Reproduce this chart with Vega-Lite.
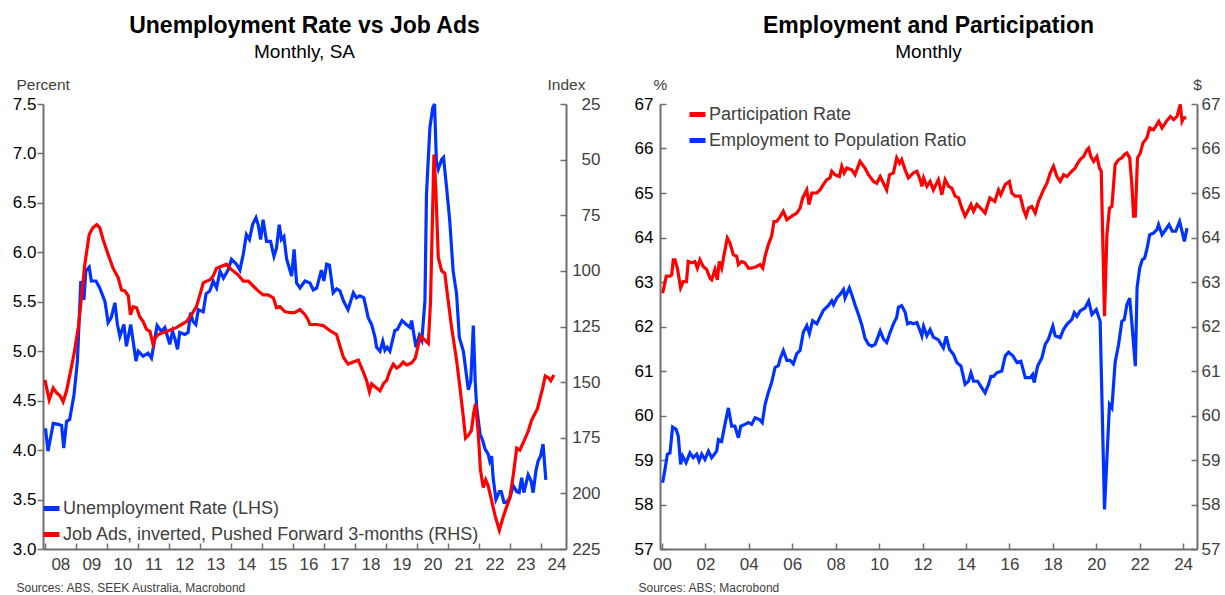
{
"$schema": "https://vega.github.io/schema/vega-lite/v6.json",
"background": "white",
"padding": {"left": 12, "top": 15, "right": 0, "bottom": 0},
"config": {
  "font": "Liberation Sans",
  "view": {"stroke": null},
  "concat": {"spacing": 34},
  "axis": {"grid": false, "domainColor": "#6e6e6e", "domainWidth": 2, "tickColor": "#6e6e6e", "tickWidth": 1.5, "labelFont": "Liberation Sans", "labelFontSize": 17, "titleFont": "Liberation Sans", "titleFontWeight": "normal"},
  "title": {"font": "Liberation Sans", "fontSize": 23, "fontWeight": "bold", "color": "black", "subtitleFont": "Liberation Sans", "subtitleFontSize": 19, "subtitleColor": "black", "anchor": "middle", "frame": "group", "offset": 15, "subtitlePadding": 5}
},
"resolve": {"scale": {"color": "independent"}, "legend": {"color": "independent"}},
"datasets": {
"ur": [
{"year":2008.02,"value":4.22},{"year":2008.1,"value":3.99},{"year":2008.2,"value":4.15},{"year":2008.27,"value":4.27},{"year":2008.43,"value":4.26},{"year":2008.54,"value":4.25},{"year":2008.61,"value":4.02},{"year":2008.7,"value":4.29},{"year":2008.8,"value":4.31},{"year":2008.94,"value":4.56},{"year":2009.05,"value":4.9},{"year":2009.16,"value":5.71},{"year":2009.26,"value":5.52},{"year":2009.32,"value":5.81},{"year":2009.43,"value":5.85},{"year":2009.5,"value":5.71},{"year":2009.65,"value":5.71},{"year":2009.77,"value":5.64},{"year":2009.94,"value":5.5},{"year":2010.04,"value":5.29},{"year":2010.14,"value":5.34},{"year":2010.26,"value":5.49},{"year":2010.34,"value":5.27},{"year":2010.42,"value":5.15},{"year":2010.55,"value":5.27},{"year":2010.63,"value":5.05},{"year":2010.77,"value":5.27},{"year":2010.94,"value":4.9},{"year":2011.01,"value":5.0},{"year":2011.17,"value":4.95},{"year":2011.33,"value":4.98},{"year":2011.44,"value":4.93},{"year":2011.55,"value":5.13},{"year":2011.62,"value":5.26},{"year":2011.76,"value":5.2},{"year":2011.87,"value":5.24},{"year":2012.03,"value":5.07},{"year":2012.12,"value":5.2},{"year":2012.2,"value":5.12},{"year":2012.28,"value":5.02},{"year":2012.35,"value":5.19},{"year":2012.52,"value":5.17},{"year":2012.62,"value":5.19},{"year":2012.7,"value":5.39},{"year":2012.78,"value":5.3},{"year":2012.87,"value":5.27},{"year":2012.95,"value":5.42},{"year":2013.11,"value":5.4},{"year":2013.2,"value":5.58},{"year":2013.32,"value":5.61},{"year":2013.43,"value":5.71},{"year":2013.54,"value":5.64},{"year":2013.65,"value":5.81},{"year":2013.76,"value":5.74},{"year":2013.91,"value":5.82},{"year":2014.02,"value":5.93},{"year":2014.18,"value":5.88},{"year":2014.29,"value":5.82},{"year":2014.4,"value":5.98},{"year":2014.5,"value":6.18},{"year":2014.6,"value":6.13},{"year":2014.7,"value":6.28},{"year":2014.81,"value":6.35},{"year":2014.88,"value":6.28},{"year":2014.96,"value":6.13},{"year":2015.04,"value":6.33},{"year":2015.15,"value":6.11},{"year":2015.28,"value":6.11},{"year":2015.39,"value":5.96},{"year":2015.47,"value":6.04},{"year":2015.56,"value":6.28},{"year":2015.63,"value":6.13},{"year":2015.71,"value":6.16},{"year":2015.8,"value":5.93},{"year":2015.96,"value":5.76},{"year":2016.04,"value":6.03},{"year":2016.12,"value":5.69},{"year":2016.23,"value":5.64},{"year":2016.39,"value":5.71},{"year":2016.55,"value":5.69},{"year":2016.66,"value":5.62},{"year":2016.77,"value":5.64},{"year":2016.92,"value":5.82},{"year":2017.0,"value":5.71},{"year":2017.09,"value":5.88},{"year":2017.18,"value":5.87},{"year":2017.3,"value":5.59},{"year":2017.41,"value":5.63},{"year":2017.52,"value":5.61},{"year":2017.63,"value":5.51},{"year":2017.78,"value":5.42},{"year":2017.95,"value":5.59},{"year":2018.05,"value":5.54},{"year":2018.16,"value":5.56},{"year":2018.29,"value":5.54},{"year":2018.43,"value":5.34},{"year":2018.54,"value":5.27},{"year":2018.65,"value":5.14},{"year":2018.7,"value":5.04},{"year":2018.81,"value":5.0},{"year":2018.9,"value":5.1},{"year":2018.97,"value":5.01},{"year":2019.04,"value":5.04},{"year":2019.13,"value":5.0},{"year":2019.29,"value":5.21},{"year":2019.37,"value":5.22},{"year":2019.52,"value":5.31},{"year":2019.66,"value":5.27},{"year":2019.78,"value":5.24},{"year":2019.83,"value":5.31},{"year":2019.97,"value":5.04},{"year":2020.08,"value":5.16},{"year":2020.16,"value":5.11},{"year":2020.26,"value":5.51},{"year":2020.31,"value":6.59},{"year":2020.42,"value":7.26},{"year":2020.51,"value":7.46},{"year":2020.57,"value":7.5},{"year":2020.63,"value":6.92},{"year":2020.69,"value":6.84},{"year":2020.8,"value":6.94},{"year":2020.86,"value":6.96},{"year":2020.96,"value":6.65},{"year":2021.06,"value":6.32},{"year":2021.17,"value":5.81},{"year":2021.28,"value":5.58},{"year":2021.37,"value":5.14},{"year":2021.5,"value":5.0},{"year":2021.61,"value":4.73},{"year":2021.66,"value":4.61},{"year":2021.74,"value":4.7},{"year":2021.82,"value":5.26},{"year":2021.88,"value":4.7},{"year":2021.93,"value":4.43},{"year":2022.04,"value":4.16},{"year":2022.12,"value":4.1},{"year":2022.2,"value":4.01},{"year":2022.3,"value":3.96},{"year":2022.35,"value":3.89},{"year":2022.41,"value":3.94},{"year":2022.46,"value":3.72},{"year":2022.55,"value":3.5},{"year":2022.66,"value":3.58},{"year":2022.72,"value":3.58},{"year":2022.81,"value":3.47},{"year":2022.89,"value":3.47},{"year":2023.0,"value":3.52},{"year":2023.11,"value":3.64},{"year":2023.22,"value":3.58},{"year":2023.3,"value":3.57},{"year":2023.38,"value":3.72},{"year":2023.45,"value":3.57},{"year":2023.59,"value":3.75},{"year":2023.68,"value":3.69},{"year":2023.75,"value":3.57},{"year":2023.84,"value":3.79},{"year":2023.91,"value":3.89},{"year":2023.99,"value":3.94},{"year":2024.07,"value":4.06},{"year":2024.16,"value":3.7}
],
"ja": [
{"year":2008.0,"value":149.0},{"year":2008.14,"value":157.9},{"year":2008.27,"value":152.6},{"year":2008.38,"value":154.8},{"year":2008.49,"value":156.1},{"year":2008.59,"value":158.8},{"year":2008.7,"value":153.9},{"year":2008.8,"value":147.2},{"year":2008.94,"value":137.4},{"year":2009.08,"value":125.4},{"year":2009.17,"value":113.4},{"year":2009.29,"value":97.0},{"year":2009.43,"value":83.7},{"year":2009.55,"value":80.6},{"year":2009.67,"value":79.2},{"year":2009.77,"value":80.6},{"year":2009.88,"value":85.9},{"year":2010.04,"value":92.6},{"year":2010.2,"value":98.8},{"year":2010.37,"value":103.2},{"year":2010.47,"value":108.6},{"year":2010.58,"value":109.0},{"year":2010.69,"value":111.2},{"year":2010.76,"value":119.7},{"year":2010.85,"value":116.1},{"year":2010.96,"value":116.6},{"year":2011.06,"value":120.6},{"year":2011.17,"value":122.8},{"year":2011.28,"value":126.3},{"year":2011.39,"value":127.2},{"year":2011.49,"value":133.0},{"year":2011.55,"value":130.3},{"year":2011.66,"value":128.6},{"year":2011.82,"value":127.7},{"year":2011.92,"value":127.2},{"year":2012.09,"value":126.3},{"year":2012.25,"value":125.4},{"year":2012.41,"value":124.1},{"year":2012.57,"value":122.8},{"year":2012.73,"value":119.7},{"year":2012.89,"value":116.1},{"year":2013.0,"value":110.8},{"year":2013.11,"value":105.4},{"year":2013.22,"value":104.6},{"year":2013.32,"value":104.1},{"year":2013.43,"value":102.3},{"year":2013.54,"value":98.8},{"year":2013.7,"value":97.9},{"year":2013.86,"value":97.0},{"year":2013.97,"value":98.8},{"year":2014.08,"value":100.1},{"year":2014.24,"value":101.9},{"year":2014.4,"value":104.6},{"year":2014.56,"value":104.6},{"year":2014.72,"value":106.8},{"year":2014.88,"value":109.0},{"year":2015.04,"value":110.8},{"year":2015.2,"value":110.8},{"year":2015.37,"value":112.1},{"year":2015.47,"value":116.6},{"year":2015.58,"value":116.1},{"year":2015.74,"value":118.3},{"year":2015.9,"value":118.8},{"year":2016.06,"value":118.8},{"year":2016.23,"value":117.4},{"year":2016.39,"value":119.7},{"year":2016.49,"value":121.9},{"year":2016.55,"value":124.1},{"year":2016.77,"value":124.1},{"year":2016.98,"value":124.6},{"year":2017.19,"value":126.8},{"year":2017.41,"value":128.6},{"year":2017.52,"value":133.9},{"year":2017.63,"value":138.8},{"year":2017.78,"value":141.9},{"year":2017.95,"value":141.0},{"year":2018.11,"value":140.1},{"year":2018.27,"value":145.4},{"year":2018.38,"value":149.4},{"year":2018.47,"value":154.3},{"year":2018.54,"value":150.8},{"year":2018.65,"value":152.1},{"year":2018.81,"value":153.9},{"year":2018.94,"value":150.3},{"year":2019.02,"value":149.4},{"year":2019.13,"value":145.0},{"year":2019.24,"value":141.9},{"year":2019.35,"value":143.7},{"year":2019.45,"value":142.8},{"year":2019.56,"value":141.0},{"year":2019.67,"value":142.3},{"year":2019.83,"value":141.4},{"year":2019.95,"value":139.2},{"year":2020.05,"value":133.0},{"year":2020.13,"value":129.4},{"year":2020.23,"value":130.8},{"year":2020.37,"value":132.6},{"year":2020.44,"value":113.9},{"year":2020.55,"value":47.7},{"year":2020.61,"value":62.8},{"year":2020.69,"value":93.9},{"year":2020.8,"value":100.1},{"year":2020.9,"value":101.0},{"year":2021.01,"value":113.4},{"year":2021.12,"value":125.4},{"year":2021.28,"value":140.1},{"year":2021.39,"value":152.6},{"year":2021.5,"value":165.9},{"year":2021.57,"value":175.2},{"year":2021.66,"value":173.9},{"year":2021.76,"value":171.7},{"year":2021.83,"value":164.1},{"year":2021.89,"value":159.7},{"year":2021.98,"value":173.0},{"year":2022.05,"value":189.4},{"year":2022.14,"value":197.4},{"year":2022.22,"value":193.9},{"year":2022.3,"value":196.6},{"year":2022.41,"value":203.2},{"year":2022.52,"value":209.9},{"year":2022.66,"value":216.6},{"year":2022.79,"value":210.3},{"year":2022.89,"value":206.3},{"year":2023.0,"value":201.9},{"year":2023.11,"value":191.7},{"year":2023.22,"value":179.7},{"year":2023.32,"value":180.6},{"year":2023.45,"value":176.6},{"year":2023.59,"value":172.1},{"year":2023.7,"value":167.2},{"year":2023.81,"value":164.1},{"year":2023.89,"value":161.9},{"year":2023.97,"value":157.4},{"year":2024.06,"value":152.6},{"year":2024.14,"value":147.2},{"year":2024.25,"value":148.1},{"year":2024.32,"value":149.4},{"year":2024.42,"value":146.8}
],
"pr": [
{"year":2000.03,"value":62.75},{"year":2000.2,"value":63.13},{"year":2000.37,"value":63.13},{"year":2000.45,"value":63.16},{"year":2000.52,"value":63.5},{"year":2000.6,"value":63.5},{"year":2000.71,"value":63.31},{"year":2000.86,"value":62.87},{"year":2000.98,"value":63.01},{"year":2001.13,"value":63.01},{"year":2001.21,"value":63.46},{"year":2001.37,"value":63.43},{"year":2001.52,"value":63.46},{"year":2001.63,"value":63.31},{"year":2001.75,"value":63.5},{"year":2001.9,"value":63.35},{"year":2002.06,"value":63.28},{"year":2002.21,"value":63.09},{"year":2002.29,"value":63.05},{"year":2002.44,"value":63.28},{"year":2002.55,"value":63.05},{"year":2002.64,"value":63.46},{"year":2002.75,"value":63.31},{"year":2002.86,"value":63.61},{"year":2003.01,"value":63.99},{"year":2003.13,"value":63.88},{"year":2003.29,"value":63.61},{"year":2003.44,"value":63.58},{"year":2003.52,"value":63.39},{"year":2003.67,"value":63.46},{"year":2003.82,"value":63.43},{"year":2003.98,"value":63.31},{"year":2004.13,"value":63.31},{"year":2004.36,"value":63.35},{"year":2004.52,"value":63.39},{"year":2004.64,"value":63.31},{"year":2004.75,"value":63.58},{"year":2004.9,"value":63.84},{"year":2005.05,"value":64.03},{"year":2005.16,"value":64.36},{"year":2005.28,"value":64.36},{"year":2005.41,"value":64.44},{"year":2005.59,"value":64.59},{"year":2005.75,"value":64.4},{"year":2005.98,"value":64.48},{"year":2006.21,"value":64.55},{"year":2006.36,"value":64.66},{"year":2006.48,"value":64.89},{"year":2006.67,"value":65.07},{"year":2006.77,"value":64.74},{"year":2006.9,"value":65.0},{"year":2007.13,"value":65.0},{"year":2007.28,"value":65.07},{"year":2007.43,"value":65.19},{"year":2007.59,"value":65.3},{"year":2007.74,"value":65.34},{"year":2007.82,"value":65.49},{"year":2007.97,"value":65.41},{"year":2008.17,"value":65.37},{"year":2008.28,"value":65.6},{"year":2008.39,"value":65.45},{"year":2008.51,"value":65.56},{"year":2008.74,"value":65.52},{"year":2008.89,"value":65.41},{"year":2009.12,"value":65.71},{"year":2009.35,"value":65.56},{"year":2009.51,"value":65.41},{"year":2009.74,"value":65.26},{"year":2009.89,"value":65.22},{"year":2010.05,"value":65.37},{"year":2010.2,"value":65.22},{"year":2010.35,"value":65.07},{"year":2010.48,"value":65.41},{"year":2010.66,"value":65.45},{"year":2010.81,"value":65.79},{"year":2010.94,"value":65.67},{"year":2011.04,"value":65.75},{"year":2011.2,"value":65.52},{"year":2011.35,"value":65.34},{"year":2011.58,"value":65.45},{"year":2011.74,"value":65.49},{"year":2011.89,"value":65.3},{"year":2011.97,"value":65.15},{"year":2012.05,"value":65.34},{"year":2012.2,"value":65.15},{"year":2012.35,"value":65.26},{"year":2012.5,"value":65.07},{"year":2012.73,"value":65.3},{"year":2012.89,"value":64.96},{"year":2013.04,"value":65.3},{"year":2013.2,"value":65.15},{"year":2013.35,"value":65.11},{"year":2013.5,"value":64.93},{"year":2013.66,"value":64.89},{"year":2013.81,"value":64.66},{"year":2013.96,"value":64.48},{"year":2014.12,"value":64.63},{"year":2014.23,"value":64.74},{"year":2014.35,"value":64.59},{"year":2014.5,"value":64.74},{"year":2014.73,"value":64.63},{"year":2014.88,"value":64.55},{"year":2015.1,"value":64.89},{"year":2015.33,"value":64.81},{"year":2015.5,"value":65.07},{"year":2015.6,"value":64.96},{"year":2015.81,"value":65.19},{"year":2016.0,"value":65.26},{"year":2016.11,"value":65.0},{"year":2016.27,"value":64.93},{"year":2016.5,"value":64.93},{"year":2016.65,"value":64.63},{"year":2016.77,"value":64.48},{"year":2016.88,"value":64.66},{"year":2017.03,"value":64.7},{"year":2017.19,"value":64.55},{"year":2017.34,"value":64.81},{"year":2017.57,"value":65.07},{"year":2017.73,"value":65.22},{"year":2017.88,"value":65.45},{"year":2018.03,"value":65.6},{"year":2018.19,"value":65.37},{"year":2018.34,"value":65.26},{"year":2018.5,"value":65.41},{"year":2018.65,"value":65.37},{"year":2018.88,"value":65.49},{"year":2019.03,"value":65.56},{"year":2019.11,"value":65.64},{"year":2019.26,"value":65.75},{"year":2019.42,"value":65.82},{"year":2019.57,"value":65.97},{"year":2019.65,"value":66.01},{"year":2019.75,"value":65.82},{"year":2019.88,"value":65.71},{"year":2020.03,"value":65.82},{"year":2020.15,"value":65.56},{"year":2020.23,"value":65.49},{"year":2020.38,"value":62.23},{"year":2020.49,"value":64.06},{"year":2020.61,"value":64.66},{"year":2020.72,"value":64.7},{"year":2020.87,"value":65.64},{"year":2021.03,"value":65.75},{"year":2021.18,"value":65.79},{"year":2021.29,"value":65.86},{"year":2021.41,"value":65.9},{"year":2021.54,"value":65.79},{"year":2021.64,"value":65.19},{"year":2021.72,"value":64.48},{"year":2021.8,"value":64.48},{"year":2021.9,"value":65.79},{"year":2022.03,"value":65.9},{"year":2022.15,"value":66.12},{"year":2022.33,"value":66.24},{"year":2022.46,"value":66.46},{"year":2022.64,"value":66.42},{"year":2022.88,"value":66.61},{"year":2023.03,"value":66.46},{"year":2023.23,"value":66.61},{"year":2023.41,"value":66.72},{"year":2023.57,"value":66.65},{"year":2023.72,"value":66.72},{"year":2023.87,"value":66.99},{"year":2023.95,"value":66.61},{"year":2024.03,"value":66.69},{"year":2024.15,"value":66.69}
],
"ep": [
{"year":2000.03,"value":58.49},{"year":2000.14,"value":58.79},{"year":2000.25,"value":59.13},{"year":2000.37,"value":59.16},{"year":2000.49,"value":59.74},{"year":2000.65,"value":59.69},{"year":2000.75,"value":59.54},{"year":2000.86,"value":58.9},{"year":2000.95,"value":59.09},{"year":2001.11,"value":58.94},{"year":2001.29,"value":59.16},{"year":2001.44,"value":59.05},{"year":2001.6,"value":59.13},{"year":2001.71,"value":58.98},{"year":2001.83,"value":59.13},{"year":2001.98,"value":59.01},{"year":2002.14,"value":59.2},{"year":2002.29,"value":59.05},{"year":2002.52,"value":59.2},{"year":2002.6,"value":59.46},{"year":2002.75,"value":59.42},{"year":2002.9,"value":59.8},{"year":2003.06,"value":60.17},{"year":2003.21,"value":59.76},{"year":2003.36,"value":59.76},{"year":2003.52,"value":59.5},{"year":2003.63,"value":59.76},{"year":2003.82,"value":59.8},{"year":2003.98,"value":59.84},{"year":2004.13,"value":59.8},{"year":2004.29,"value":59.95},{"year":2004.49,"value":59.91},{"year":2004.62,"value":59.84},{"year":2004.75,"value":60.25},{"year":2004.9,"value":60.52},{"year":2005.05,"value":60.74},{"year":2005.21,"value":61.08},{"year":2005.36,"value":61.12},{"year":2005.44,"value":61.27},{"year":2005.59,"value":61.46},{"year":2005.75,"value":61.24},{"year":2005.9,"value":61.24},{"year":2006.05,"value":61.16},{"year":2006.21,"value":61.39},{"year":2006.36,"value":61.46},{"year":2006.51,"value":61.87},{"year":2006.67,"value":62.02},{"year":2006.79,"value":61.84},{"year":2006.94,"value":62.13},{"year":2007.13,"value":62.06},{"year":2007.28,"value":62.21},{"year":2007.43,"value":62.36},{"year":2007.66,"value":62.47},{"year":2007.82,"value":62.58},{"year":2007.9,"value":62.49},{"year":2008.05,"value":62.64},{"year":2008.2,"value":62.72},{"year":2008.36,"value":62.83},{"year":2008.43,"value":62.64},{"year":2008.63,"value":62.87},{"year":2008.74,"value":62.72},{"year":2008.89,"value":62.49},{"year":2009.05,"value":62.27},{"year":2009.2,"value":62.04},{"year":2009.35,"value":61.74},{"year":2009.43,"value":61.67},{"year":2009.51,"value":61.6},{"year":2009.66,"value":61.56},{"year":2009.82,"value":61.6},{"year":2010.05,"value":61.9},{"year":2010.2,"value":61.72},{"year":2010.35,"value":61.64},{"year":2010.51,"value":61.87},{"year":2010.66,"value":62.06},{"year":2010.81,"value":62.21},{"year":2010.89,"value":62.43},{"year":2011.04,"value":62.47},{"year":2011.2,"value":62.32},{"year":2011.31,"value":62.06},{"year":2011.43,"value":62.09},{"year":2011.58,"value":62.06},{"year":2011.74,"value":62.09},{"year":2011.89,"value":61.9},{"year":2011.97,"value":61.79},{"year":2012.05,"value":62.0},{"year":2012.2,"value":61.79},{"year":2012.35,"value":61.93},{"year":2012.5,"value":61.76},{"year":2012.73,"value":61.7},{"year":2012.96,"value":61.52},{"year":2013.09,"value":61.78},{"year":2013.24,"value":61.49},{"year":2013.43,"value":61.37},{"year":2013.58,"value":61.19},{"year":2013.77,"value":61.11},{"year":2013.96,"value":60.7},{"year":2014.12,"value":60.77},{"year":2014.23,"value":60.96},{"year":2014.35,"value":60.77},{"year":2014.54,"value":60.77},{"year":2014.73,"value":60.62},{"year":2014.88,"value":60.51},{"year":2015.04,"value":60.7},{"year":2015.15,"value":60.88},{"year":2015.27,"value":60.88},{"year":2015.42,"value":60.96},{"year":2015.65,"value":61.0},{"year":2015.81,"value":61.34},{"year":2015.96,"value":61.42},{"year":2016.16,"value":61.34},{"year":2016.35,"value":61.19},{"year":2016.53,"value":61.22},{"year":2016.73,"value":60.85},{"year":2016.96,"value":60.85},{"year":2017.07,"value":60.92},{"year":2017.14,"value":60.74},{"year":2017.3,"value":61.11},{"year":2017.5,"value":61.3},{"year":2017.65,"value":61.6},{"year":2017.8,"value":61.72},{"year":2018.0,"value":62.01},{"year":2018.11,"value":61.79},{"year":2018.34,"value":61.75},{"year":2018.49,"value":61.93},{"year":2018.65,"value":62.05},{"year":2018.88,"value":62.16},{"year":2018.99,"value":62.31},{"year":2019.11,"value":62.23},{"year":2019.26,"value":62.35},{"year":2019.49,"value":62.42},{"year":2019.65,"value":62.57},{"year":2019.8,"value":62.27},{"year":2020.0,"value":62.38},{"year":2020.18,"value":62.12},{"year":2020.38,"value":57.89},{"year":2020.61,"value":60.25},{"year":2020.72,"value":60.17},{"year":2020.87,"value":61.19},{"year":2021.03,"value":61.6},{"year":2021.18,"value":62.12},{"year":2021.29,"value":62.15},{"year":2021.41,"value":62.49},{"year":2021.54,"value":62.64},{"year":2021.64,"value":62.08},{"year":2021.8,"value":61.11},{"year":2021.88,"value":62.87},{"year":2022.0,"value":63.31},{"year":2022.12,"value":63.5},{"year":2022.23,"value":63.54},{"year":2022.33,"value":63.73},{"year":2022.46,"value":64.06},{"year":2022.64,"value":64.1},{"year":2022.8,"value":64.18},{"year":2022.87,"value":64.29},{"year":2023.03,"value":64.06},{"year":2023.2,"value":64.18},{"year":2023.35,"value":64.29},{"year":2023.5,"value":64.14},{"year":2023.66,"value":64.14},{"year":2023.84,"value":64.36},{"year":2023.95,"value":64.14},{"year":2024.06,"value":63.91},{"year":2024.18,"value":64.21}
]
},
"hconcat": [
{
  "width": 523, "height": 445,
  "title": {"text": "Unemployment Rate vs Job Ads", "subtitle": "Monthly, SA"},
  "encoding": {
    "x": {"field": "year", "type": "quantitative",
      "scale": {"domain": [2007.94, 2024.81], "nice": false, "zero": false},
      "axis": {"values": [2008,2009,2010,2011,2012,2013,2014,2015,2016,2017,2018,2019,2020,2021,2022,2023,2024],
        "labelExpr": "(datum.value < 2010 ? '0' : '') + (datum.value - 2000)",
        "labelOffset": 15.5, "labelFlush": false, "labelOverlap": false, "labelColor": "#404040",
        "tickSize": -6, "labelPadding": 13,
        "title": "Sources: ABS, SEEK Australia, Macrobond", "titleFontSize": 12, "titleColor": "#404040",
        "titleAnchor": "start", "titleAlign": "left", "titleBaseline": "middle", "titleX": -27, "titleY": 38}}
  },
  "layer": [
    {"data": {"name": "ur"}, "mark": {"type": "line", "strokeWidth": 3.2},
     "encoding": {
       "y": {"field": "value", "type": "quantitative", "scale": {"domain": [3, 7.5], "nice": false, "zero": false},
         "axis": {"orient": "left", "values": [3,3.5,4,4.5,5,5.5,6,6.5,7,7.5], "format": ".1f", "labelColor": "black", "tickSize": 6, "labelPadding": 1,
           "title": "Percent", "titleAngle": 0, "titleAlign": "left", "titleBaseline": "alphabetic", "titleX": -27, "titleY": -15, "titleFontSize": 15.5, "titleColor": "#404040"}},
       "color": {"datum": "Unemployment Rate (LHS)", "type": "nominal",
         "scale": {"domain": ["Unemployment Rate (LHS)", "Job Ads, inverted, Pushed Forward 3-months (RHS)"], "range": ["#0033ff", "#ff0000"]},
         "legend": {"orient": "none", "legendX": -2, "legendY": 394, "title": null, "symbolType": "stroke", "symbolStrokeWidth": 5, "symbolSize": 256, "labelFontSize": 18, "labelColor": "#404040", "rowPadding": 5, "padding": 0, "symbolOffset": 0, "labelOffset": 1, "labelLimit": 600}}
     }},
    {"data": {"name": "ja"}, "mark": {"type": "line", "strokeWidth": 3.2},
     "encoding": {
       "y": {"field": "value", "type": "quantitative", "scale": {"domain": [25, 225], "nice": false, "zero": false, "reverse": true},
         "axis": {"orient": "right", "values": [25,50,75,100,125,150,175,200,225], "labelColor": "#404040", "labelAlign": "right", "tickSize": -6, "labelPadding": 40,
           "title": "Index", "titleAngle": 0, "titleAlign": "center", "titleBaseline": "alphabetic", "titleX": 0, "titleY": -15, "titleFontSize": 15.5, "titleColor": "#404040"}},
       "color": {"datum": "Job Ads, inverted, Pushed Forward 3-months (RHS)", "type": "nominal"}
     }}
  ],
  "resolve": {"scale": {"y": "independent"}}
},
{
  "width": 537, "height": 445,
  "title": {"text": "Employment and Participation", "subtitle": "Monthly"},
  "encoding": {
    "x": {"field": "year", "type": "quantitative",
      "scale": {"domain": [1999.91, 2024.64], "nice": false, "zero": false},
      "axis": {"values": [2000,2002,2004,2006,2008,2010,2012,2014,2016,2018,2020,2022,2024],
        "labelExpr": "(datum.value < 2010 ? '0' : '') + (datum.value - 2000)",
        "labelFlush": false, "labelOverlap": false, "labelColor": "#404040",
        "tickSize": -6, "labelPadding": 13,
        "title": "Sources: ABS; Macrobond", "titleFontSize": 12, "titleColor": "#404040",
        "titleAnchor": "start", "titleAlign": "left", "titleBaseline": "middle", "titleX": -22, "titleY": 38}}
  },
  "layer": [
    {"data": {"name": "pr"}, "mark": {"type": "line", "strokeWidth": 3.2},
     "encoding": {
       "y": {"field": "value", "type": "quantitative", "scale": {"domain": [57, 67], "nice": false, "zero": false},
         "axis": {"orient": "left", "values": [57,58,59,60,61,62,63,64,65,66,67], "labelColor": "black", "tickSize": -6, "labelPadding": 13,
           "title": "%", "titleAngle": 0, "titleAlign": "center", "titleBaseline": "alphabetic", "titleX": 0, "titleY": -15, "titleFontSize": 15.5, "titleColor": "#404040"}},
       "color": {"datum": "Participation Rate", "type": "nominal",
         "scale": {"domain": ["Participation Rate", "Employment to Population Ratio"], "range": ["#ff0000", "#0033ff"]},
         "legend": {"orient": "none", "legendX": 27, "legendY": 0, "title": null, "symbolType": "stroke", "symbolStrokeWidth": 5, "symbolSize": 256, "labelFontSize": 18, "labelColor": "#404040", "rowPadding": 5, "padding": 0, "symbolOffset": 0, "labelOffset": 1, "labelLimit": 600}}
     }},
    {"data": {"name": "ep"}, "mark": {"type": "line", "strokeWidth": 3.2},
     "encoding": {
       "y": {"field": "value", "type": "quantitative", "scale": {"domain": [57, 67], "nice": false, "zero": false},
         "axis": {"orient": "right", "values": [57,58,59,60,61,62,63,64,65,66,67], "labelColor": "#404040", "tickSize": -6, "labelPadding": 10,
           "title": "$", "titleAngle": 0, "titleAlign": "center", "titleBaseline": "alphabetic", "titleX": 0, "titleY": -15, "titleFontSize": 15.5, "titleColor": "#404040"}},
       "color": {"datum": "Employment to Population Ratio", "type": "nominal"}
     }}
  ],
  "resolve": {"scale": {"y": "independent"}}
}
]
}
